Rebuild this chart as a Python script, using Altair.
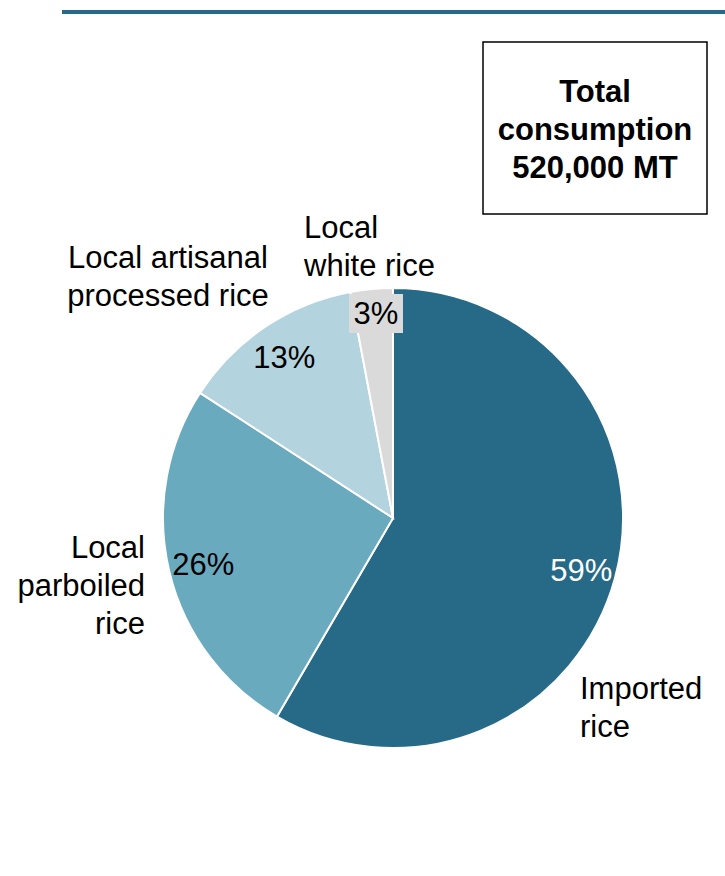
import math
import altair as alt
import pandas as pd

categories = ["Imported rice", "Local parboiled rice", "Local artisanal processed rice", "Local white rice"]
label_lines = ["Imported\nrice", "Local\nparboiled\nrice", "Local artisanal\nprocessed rice", "Local\nwhite rice"]
shares = [59, 26, 13, 3]
pct_labels = ["59%", "26%", "13%", "3%"]
colors = ["#266a87", "#6aaabf", "#b3d3de", "#dadada"]
box_lines = "Total\nconsumption\n520,000 MT"

FONT = "Liberation Sans"
FS = 31
CX, CY, R = 393, 518, 230

df = pd.DataFrame({
    "cat": categories,
    "label": label_lines,
    "share": shares,
    "pct": pct_labels,
    "idx": list(range(len(categories))),
})

color_scale = alt.Scale(domain=categories, range=colors)

base = alt.Chart(df).encode(
    theta=alt.Theta("share:Q", stack=True),
    order=alt.Order("idx:Q"),
)

pie = base.mark_arc(radius=R, stroke="white", strokeWidth=2).encode(
    x=alt.value(CX), y=alt.value(CY),
    color=alt.Color("cat:N", scale=color_scale, legend=None),
)

pct_text = base.mark_text(font=FONT, fontSize=FS, radius=195, dy=3).encode(
    x=alt.value(CX), y=alt.value(CY),
    text="pct:N",
    color=alt.condition(alt.datum.cat == "Imported rice", alt.value("white"), alt.value("black")),
).transform_filter(alt.datum.cat != "Local white rice")

# position of the small-slice label (computed from data shares)
total = sum(shares)
start = sum(shares[:-1]) / total
mid = (start + 1.0) / 2 * 2 * math.pi
sx = CX + 204 * math.sin(mid)
sy = CY - 204 * math.cos(mid)

small_df = df[df["cat"] == "Local white rice"]
small_bg = alt.Chart(small_df).mark_rect(color="#dadada").encode(
    x=alt.value(sx - 25), x2=alt.value(sx + 29),
    y=alt.value(sy - 21), y2=alt.value(sy + 18),
)
small_txt = alt.Chart(small_df).mark_text(font=FONT, fontSize=FS, color="black").encode(
    x=alt.value(sx + 2), y=alt.value(sy), text="pct:N",
)

def cat_label(cat, x, y, align):
    return alt.Chart(df[df["cat"] == cat]).mark_text(
        font=FONT, fontSize=FS, lineBreak="\n", lineHeight=38,
        align=align, baseline="middle", color="black",
    ).encode(x=alt.value(x), y=alt.value(y), text="label:N")

lab1 = cat_label("Imported rice", 580, 690, "left")
lab2 = cat_label("Local parboiled rice", 145, 549, "right")
lab3 = cat_label("Local artisanal processed rice", 168, 259, "center")
lab4 = cat_label("Local white rice", 304, 229, "left")

top_rule = alt.Chart(df.head(1)).mark_rule(color="#266a87", strokeWidth=4).encode(
    x=alt.value(62), x2=alt.value(725), y=alt.value(12),
)

box = alt.Chart(df.head(1)).mark_rect(fill="white", stroke="black", strokeWidth=1.5).encode(
    x=alt.value(483), x2=alt.value(707), y=alt.value(42), y2=alt.value(214),
)
box_text = alt.Chart(pd.DataFrame({"t": [box_lines]})).mark_text(
    font=FONT, fontSize=FS, fontWeight="bold", lineBreak="\n", lineHeight=38,
    align="center", baseline="middle", color="black",
).encode(x=alt.value(595), y=alt.value(93), text="t:N")

chart = alt.layer(
    top_rule, box, box_text, pie, pct_text, small_bg, small_txt, lab1, lab2, lab3, lab4
).properties(
    width=725, height=876, padding=0, autosize=alt.AutoSizeParams(type="none"),
).configure_view(stroke=None)

chart.save("out.html", embed_options={"renderer": "svg", "actions": False})
